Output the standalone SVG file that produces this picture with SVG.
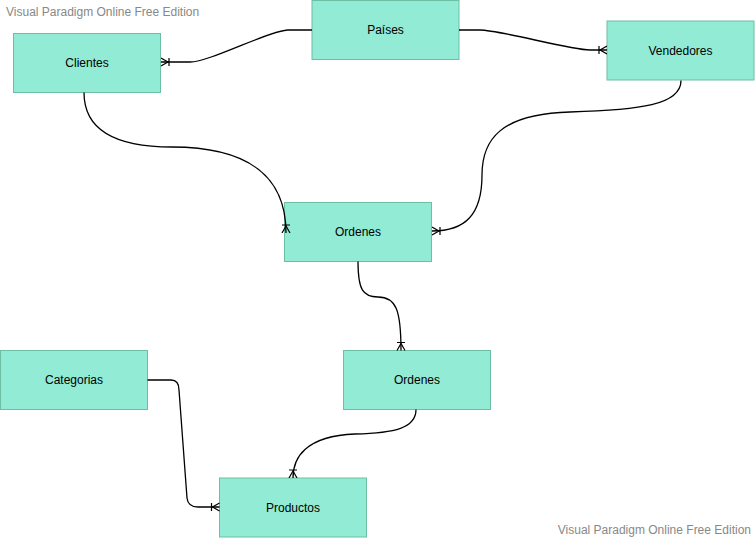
<svg xmlns="http://www.w3.org/2000/svg" width="756" height="539" viewBox="0 0 756 539">
<style>
.node rect{fill:#92EBD4;stroke:#6CBFA3;stroke-width:1}
.node text{font-family:"Liberation Sans",Arial,sans-serif;font-size:12px;fill:#000;text-anchor:middle;dominant-baseline:central}
.wm{font-family:"Liberation Sans",Arial,sans-serif;font-size:12px;fill:#888}
.conn path{fill:none;stroke:#000;stroke-width:1.3}
</style>
<defs>
<marker id="crow" markerUnits="userSpaceOnUse" viewBox="0 0 10 10" markerWidth="10" markerHeight="10" refX="10" refY="5" orient="auto">
<path d="M10,1 L3,5 L10,9 M2,1 L2,9" fill="none" stroke="#000" stroke-width="1.2"/>
</marker>
</defs>
<rect width="756" height="539" fill="#fff"/>
<text class="wm" x="6" y="16">Visual Paradigm Online Free Edition</text>
<text class="wm" x="751" y="534" text-anchor="end">Visual Paradigm Online Free Edition</text>
<g id="clientes" class="node"><rect x="13.5" y="33.5" width="147" height="59"/><text x="87" y="63">Clientes</text></g>
<g id="paises" class="node"><rect x="312" y="0.5" width="147" height="59"/><text x="385.5" y="30">Países</text></g>
<g id="vendedores" class="node"><rect x="607" y="21" width="147" height="59"/><text x="680.5" y="50.5">Vendedores</text></g>
<g id="ordenes1" class="node"><rect x="284.5" y="202.5" width="147" height="59"/><text x="358" y="232">Ordenes</text></g>
<g id="ordenes2" class="node"><rect x="343.5" y="350.5" width="147" height="59"/><text x="417" y="380">Ordenes</text></g>
<g id="categorias" class="node"><rect x="0.5" y="350.5" width="147" height="59"/><text x="74" y="380">Categorias</text></g>
<g id="productos" class="node"><rect x="219.5" y="478" width="147" height="59"/><text x="293" y="507.5">Productos</text></g>
<g id="connectors" class="conn">
<path d="M312,30 L288,30 C270,30 210,62 190,62 L161,62" marker-end="url(#crow)"/>
<path d="M459,30 L480,30 C500,30 570,50 590,50 L607,50" marker-end="url(#crow)"/>
<path d="M84,92.5 C84,128 112,147 172,147 C250,147 286,178 286,233" marker-end="url(#crow)"/>
<path d="M681,80.5 C681,105 640,110 570,112 C500,114 482,140 482,175 C482,215 465,231 432,231" marker-end="url(#crow)"/>
<path d="M358,261.5 C358,290 363,297 378,297 C396,297 401,310 401,350.5" marker-end="url(#crow)"/>
<path d="M147.5,380 L171,380 Q179,380 179,390 L187,498 Q188,507 198,507 L219.5,507" marker-end="url(#crow)"/>
<path d="M416,409.5 C416,428 395,433 355,434 C305,436 293,458 293,478" marker-end="url(#crow)"/>
</g>
</svg>
